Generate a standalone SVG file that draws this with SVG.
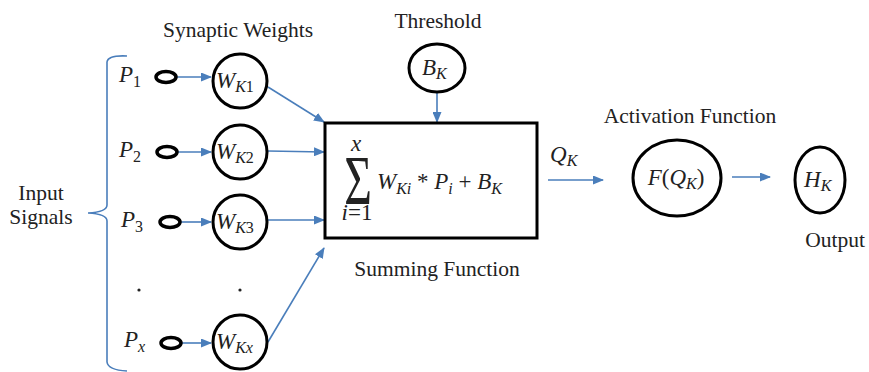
<svg xmlns="http://www.w3.org/2000/svg" width="869" height="372" viewBox="0 0 869 372">
<defs>
<marker id="ah" markerWidth="11" markerHeight="9" refX="10" refY="4.5" orient="auto" markerUnits="userSpaceOnUse">
<path d="M0,0 L11,4.5 L0,9 Z" fill="#4A7EBB"/>
</marker>
</defs>
<style>
.lbl{font-family:"Liberation Serif","Times New Roman",serif;font-size:21.5px;fill:#222;}
.m{font-family:"Liberation Serif","Times New Roman",serif;font-style:italic;font-size:23px;fill:#222;}
.sub{font-size:16px;}
.nd{fill:#fff;stroke:#000;stroke-width:3;}
.sm{fill:none;stroke:#000;stroke-width:3.5;}
.cn{stroke:#4A7EBB;stroke-width:1.6;fill:none;}
</style>
<rect width="869" height="372" fill="#fff"/>

<g id="labels">
<text class="lbl" x="238" y="37" text-anchor="middle">Synaptic Weights</text>
<text class="lbl" x="438" y="28" text-anchor="middle">Threshold</text>
<text class="lbl" x="437" y="276" text-anchor="middle">Summing Function</text>
<text class="lbl" x="690" y="123" text-anchor="middle">Activation Function</text>
<text class="lbl" x="835" y="247" text-anchor="middle">Output</text>
<text class="lbl" x="41" y="200" text-anchor="middle">Input</text>
<text class="lbl" x="41" y="224" text-anchor="middle">Signals</text>
<text class="m" x="119" y="82">P<tspan class="sub" dy="5" font-style="normal">1</tspan></text>
<text class="m" x="119" y="157">P<tspan class="sub" dy="5" font-style="normal">2</tspan></text>
<text class="m" x="121" y="227">P<tspan class="sub" dy="5" font-style="normal">3</tspan></text>
<text class="m" x="124" y="347">P<tspan class="sub" dy="5">x</tspan></text>
<circle cx="139" cy="290" r="1.6" fill="#222"/>
<circle cx="240" cy="290" r="1.6" fill="#222"/>
</g>

<g id="brace">
<path class="cn" d="M127,56 Q108,55 107,62 L107,205 Q107,212 88,213 Q107,214 107,221 L107,362 Q108,370 127,371"/>
</g>

<g id="connectors">
<line class="cn" x1="176" y1="77" x2="211" y2="77" marker-end="url(#ah)"/>
<line class="cn" x1="177" y1="152" x2="211" y2="152" marker-end="url(#ah)"/>
<line class="cn" x1="180" y1="222" x2="211" y2="222" marker-end="url(#ah)"/>
<line class="cn" x1="181" y1="343" x2="211" y2="343" marker-end="url(#ah)"/>
<line class="cn" x1="268" y1="87" x2="324" y2="122" marker-end="url(#ah)"/>
<line class="cn" x1="268" y1="151" x2="324" y2="152" marker-end="url(#ah)"/>
<line class="cn" x1="268" y1="220" x2="324" y2="220" marker-end="url(#ah)"/>
<line class="cn" x1="268" y1="342" x2="324" y2="248" marker-end="url(#ah)"/>
<line class="cn" x1="437" y1="93" x2="437" y2="122" marker-end="url(#ah)"/>
<line class="cn" x1="548" y1="180" x2="603" y2="180" marker-end="url(#ah)"/>
<line class="cn" x1="732" y1="177" x2="770" y2="177" marker-end="url(#ah)"/>
</g>

<g id="in1"><ellipse class="sm" cx="166" cy="77" rx="10" ry="5.5"/></g>
<g id="in2"><ellipse class="sm" cx="167" cy="152" rx="10" ry="5.5"/></g>
<g id="in3"><ellipse class="sm" cx="170" cy="222" rx="10" ry="5.5"/></g>
<g id="inx"><ellipse class="sm" cx="171" cy="343" rx="10" ry="5.5"/></g>

<g id="w1"><circle class="nd" cx="240" cy="81" r="27"/><text class="m" x="216" y="88">W<tspan class="sub" dy="4">K</tspan><tspan class="sub" font-style="normal">1</tspan></text></g>
<g id="w2"><circle class="nd" cx="240" cy="152" r="27"/><text class="m" x="216" y="159">W<tspan class="sub" dy="4">K</tspan><tspan class="sub" font-style="normal">2</tspan></text></g>
<g id="w3"><circle class="nd" cx="240" cy="222" r="27"/><text class="m" x="216" y="229">W<tspan class="sub" dy="4">K</tspan><tspan class="sub" font-style="normal">3</tspan></text></g>
<g id="wx"><circle class="nd" cx="240" cy="342" r="27"/><text class="m" x="216" y="349">W<tspan class="sub" dy="4">Kx</tspan></text></g>

<g id="threshold"><ellipse class="nd" cx="437" cy="68" rx="28" ry="24"/><text class="m" x="422" y="75">B<tspan class="sub" dy="4">K</tspan></text></g>

<g id="sum">
<rect class="nd" x="325" y="123" width="212" height="115"/>
<text transform="translate(358,204) scale(0.68,1)" text-anchor="middle" font-family="'Liberation Serif',serif" font-size="70" fill="#222">Σ</text>
<text class="m" x="356" y="151" text-anchor="middle" font-size="17">x</text>
<text class="m" x="357" y="220" text-anchor="middle" font-size="16">i<tspan font-style="normal">=1</tspan></text>
<text class="m" x="377" y="189" font-size="24">W<tspan class="sub" dy="5">Ki</tspan><tspan dy="-5" font-style="normal"> * </tspan>P<tspan class="sub" dy="5">i</tspan><tspan dy="-5" font-style="normal"> + </tspan>B<tspan class="sub" dy="5">K</tspan></text>
</g>

<g id="qk"><text class="m" x="550" y="162">Q<tspan class="sub" dy="4">K</tspan></text></g>

<g id="activation"><ellipse class="nd" cx="677" cy="178" rx="44" ry="38"/><text class="m" x="676" y="185" text-anchor="middle">F<tspan font-style="normal">(</tspan>Q<tspan class="sub" dy="4">K</tspan><tspan dy="-4" font-style="normal">)</tspan></text></g>

<g id="output"><ellipse class="nd" cx="820" cy="180" rx="25" ry="33"/><text class="m" x="804" y="187">H<tspan class="sub" dy="4">K</tspan></text></g>
</svg>
